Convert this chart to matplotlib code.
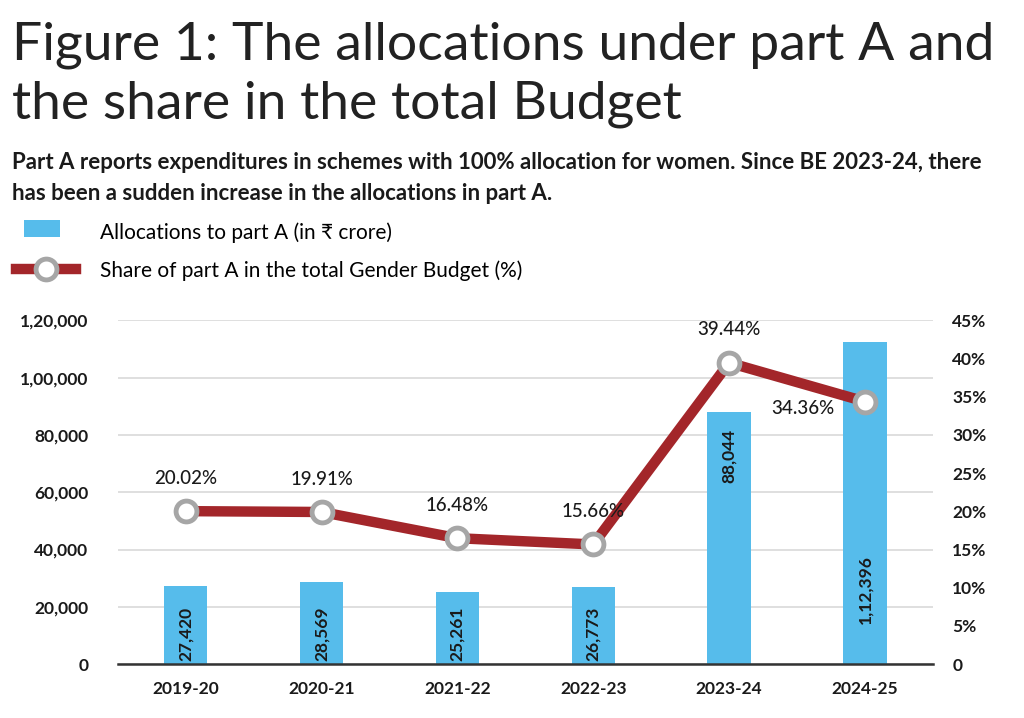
import matplotlib.pyplot as plt
from matplotlib.lines import Line2D
from matplotlib.patches import Patch, Rectangle
from matplotlib.legend_handler import HandlerPatch
import matplotlib as mpl

mpl.rc('font', family=['Lato', 'DejaVu Sans'])

years = ["2019-20", "2020-21", "2021-22", "2022-23", "2023-24", "2024-25"]
allocations = [27420, 28569, 25261, 26773, 88044, 112396]
alloc_labels = ["27,420", "28,569", "25,261", "26,773", "88,044", "1,12,396"]
share = [20.02, 19.91, 16.48, 15.66, 39.44, 34.36]
share_labels = ["20.02%", "19.91%", "16.48%", "15.66%", "39.44%", "34.36%"]

left_ticks = [0, 20000, 40000, 60000, 80000, 100000, 120000]
left_ticklabels = ["0", "20,000", "40,000", "60,000", "80,000", "1,00,000", "1,20,000"]
right_ticks = [0, 5, 10, 15, 20, 25, 30, 35, 40, 45]
right_ticklabels = ["0"] + [f"{t}%" for t in right_ticks[1:]]

blue = "#56BCEB"
red = "#A3262A"
grey = "#A6A6A6"
ink = "#1A1A1A"

fig = plt.figure(figsize=(10.24, 7.18), dpi=100)
ax = fig.add_axes([0.115, 0.075, 0.796, 0.479])
x = list(range(len(years)))

ax.bar(x, allocations, width=0.32, color=blue, zorder=2)
ax.set_xlim(-0.5, 5.5)
ax.set_ylim(0, 120000)
ax.set_yticks(left_ticks)
ax.set_yticklabels(left_ticklabels, fontsize=12.5, fontweight='bold', color=ink)
ax.set_xticks(x)
ax.set_xticklabels(years, fontsize=12.5, fontweight='bold', color=ink)
ax.grid(axis='y', color='#D9D9D9', linewidth=1.2, zorder=0)
for s in ['top', 'right', 'left']:
    ax.spines[s].set_visible(False)
ax.spines['bottom'].set_color('#333333')
ax.spines['bottom'].set_linewidth(1.8)
ax.tick_params(axis='both', length=0)
ax.tick_params(axis='y', pad=21)
ax.tick_params(axis='x', pad=12)

# bar value labels, rotated inside the bars
for i, (v, lab) in enumerate(zip(allocations, alloc_labels)):
    if v < 50000:
        ax.text(i, 1200, lab, rotation=90, ha='center', va='bottom',
                fontsize=12.5, fontweight='bold', color=ink, zorder=4)
    elif v < 100000:
        ax.text(i, v - 6000, lab, rotation=90, ha='center', va='top',
                fontsize=12.5, fontweight='bold', color=ink, zorder=4)
    else:
        ax.text(i, 26000, lab, rotation=90, ha='center', va='center',
                fontsize=12.5, fontweight='bold', color=ink, zorder=4)

ax2 = ax.twinx()
ax2.set_ylim(0, 45)
ax2.set_yticks(right_ticks)
ax2.set_yticklabels(right_ticklabels, fontsize=12.5, fontweight='bold', color=ink)
ax2.tick_params(axis='y', length=0, pad=14)
for s in ax2.spines.values():
    s.set_visible(False)
ax2.plot(x, share, color=red, linewidth=7.5, solid_capstyle='butt', zorder=3,
         marker='o', markersize=15, markerfacecolor='white',
         markeredgecolor=grey, markeredgewidth=3.5)

for i, (v, lab) in enumerate(zip(share, share_labels)):
    if i == 5:
        ax2.text(i - 0.46, v - 0.9, lab, ha='center', va='center', fontsize=13.5,
                 fontweight='medium', color=ink)
    else:
        ax2.text(i, v + 3.2, lab, ha='center', va='bottom', fontsize=13.5,
                 fontweight='medium', color=ink)

fig.text(0.012, 0.97, "Figure 1: The allocations under part A and\nthe share in the total Budget",
         ha='left', va='top', fontsize=38.5, fontweight='normal', color='#222222', linespacing=1.3)
fig.text(0.012, 0.752, "Part A reports expenditures in schemes with 100% allocation for women. Since BE 2023-24, there\nhas been a sudden increase in the allocations in part A.",
         ha='left', va='center', fontsize=16, fontweight='bold', color=ink, linespacing=1.6)


def small_box(legend, orig_handle, xdescent, ydescent, width, height, fontsize):
    return Rectangle((xdescent + width * 0.14, ydescent + height * 0.02),
                     width * 0.6, height * 0.96)


handles = [Patch(facecolor=blue, edgecolor='none'),
           Line2D([0], [0], color=red, linewidth=7.5, marker='o', markersize=15,
                  markerfacecolor='white', markeredgecolor=grey, markeredgewidth=3.5)]
fig.legend(handles, ["Allocations to part A (in ₹ crore)",
                     "Share of part A in the total Gender Budget (%)"],
           handler_map={Patch: HandlerPatch(patch_func=small_box)},
           loc='upper left', bbox_to_anchor=(0.003, 0.708), frameon=False,
           fontsize=15, handlelength=2.9, handleheight=0.9, labelspacing=0.85,
           handletextpad=1.15, borderaxespad=0.2)

fig.savefig("out.png", dpi=100)
